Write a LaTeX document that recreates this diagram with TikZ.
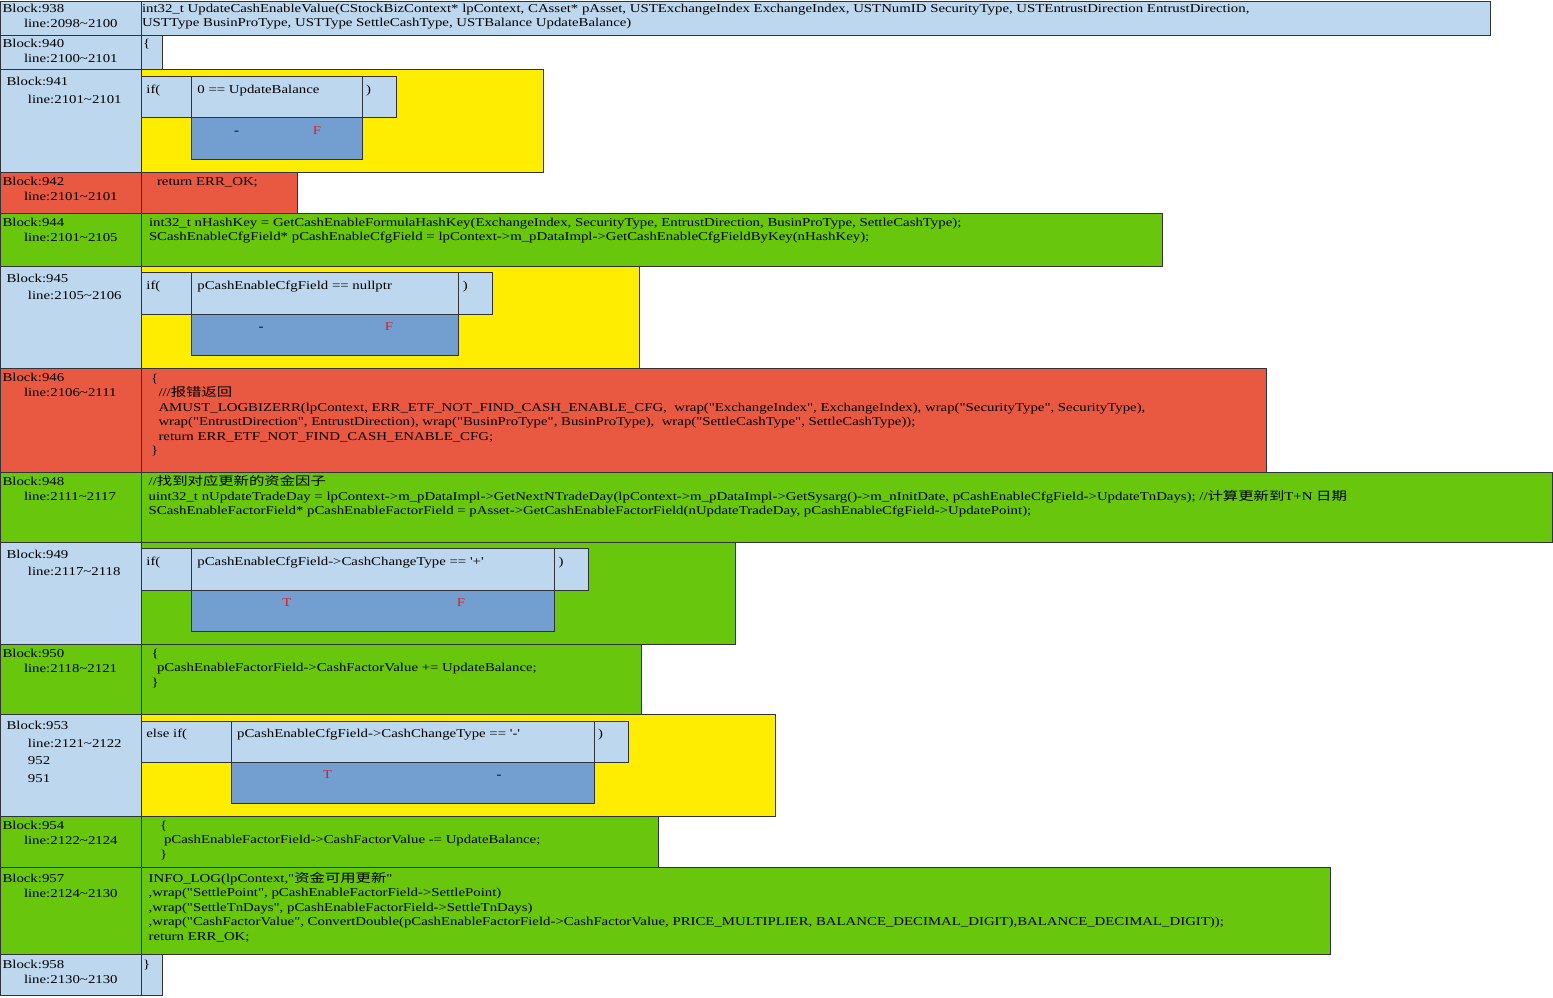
\documentclass[tikz,border=0pt]{standalone}
\usepackage{fontspec}
\setmainfont{Liberation Serif}[Ligatures=TeXOff,FakeStretch=1.235]
\newfontfamily\cjk{Noto Sans CJK SC}[FakeStretch=1.28]
\definecolor{lblue}{RGB}{189,215,238}
\definecolor{dblue}{RGB}{114,159,207}
\definecolor{yel}{RGB}{255,237,0}
\definecolor{redc}{RGB}{233,89,66}
\definecolor{grn}{RGB}{104,198,12}
\definecolor{flag}{RGB}{222,30,40}
\definecolor{edge}{RGB}{50,50,58}
\newcommand\codefont{\fontsize{12}{14.5}\selectfont}
\newcommand\lblfont{\fontsize{12}{15}\selectfont}
\newcommand\iflblfont{\fontsize{12}{17.5}\selectfont}
\newcommand\fst{\rule{0pt}{11pt}}
\newcommand\tld{\char"7E\relax}
\newcommand\ind[1]{\hspace*{#1pt}}
\begin{document}
\begin{tikzpicture}[x=1pt,y=-1pt,
  cell/.style={draw=edge,line width=0.9pt},
  code/.style={inner sep=0pt,outer sep=0pt,anchor=north west,align=left,font=\codefont},
  lbl/.style={code,font=\lblfont},
  iflbl/.style={code,font=\iflblfont},
  tf/.style={inner sep=0pt,anchor=base,font=\codefont},
  flagT/.style={tf,text=flag}]
\useasboundingbox (0,0) rectangle (1553,997);

% ---- Block 938: signature
\draw[cell,fill=lblue] (0,1) rectangle (141,35);
\draw[cell,fill=lblue] (141,1) rectangle (1490,35);
\node[lbl] (l938) at (2.5,1) {\fst Block:938\\\ind{21.5}line:2098\tld2100};
\node[code] (c938) at (142,1) {\fst int32\_t UpdateCashEnableValue(CStockBizContext* lpContext, CAsset* pAsset, USTExchangeIndex ExchangeIndex, USTNumID SecurityType, USTEntrustDirection EntrustDirection,\\USTType BusinProType, USTType SettleCashType, USTBalance UpdateBalance)};

% ---- Block 940
\draw[cell,fill=lblue] (0,35) rectangle (141,69.5);
\draw[cell,fill=lblue] (141,35) rectangle (162,69.5);
\node[lbl] (l940) at (2.5,36.3) {\fst Block:940\\\ind{21.5}line:2100\tld2101};
\node[code] (c940) at (143,36.3) {\fst\{};

% ---- Block 941: if (0 == UpdateBalance)
\draw[cell,fill=lblue] (0,69.5) rectangle (141,172);
\draw[cell,fill=yel] (141,69.5) rectangle (543,172);
\draw[cell,fill=lblue] (141,76.5) rectangle (191,117.5);
\draw[cell,fill=lblue] (191,76.5) rectangle (362,117.5);
\draw[cell,fill=lblue] (362,76.5) rectangle (396.5,117.5);
\draw[cell,fill=dblue] (191,117.5) rectangle (362,159);
\node[iflbl] (l941) at (6.6,74.7) {\fst Block:941\\\ind{21.4}line:2101\tld2101};
\node[code] (i941) at (146.4,82.3) {\fst if(};
\node[code] (q941) at (197.4,82.3) {\fst 0 == UpdateBalance};
\node[code] (p941) at (366,82.3) {\fst )};
\node[tf] (t941) at (236.6,134.5) {-};
\node[flagT] (f941) at (317,134.5) {F};

% ---- Block 942
\draw[cell,fill=redc] (0,172) rectangle (141,213);
\draw[cell,fill=redc] (141,172) rectangle (297.5,213);
\node[lbl] (l942) at (2.5,174) {\fst Block:942\\\ind{21.5}line:2101\tld2101};
\node[code] (c942) at (157,174.5) {\fst return ERR\_OK;};

% ---- Block 944
\draw[cell,fill=grn] (0,213) rectangle (141,266);
\draw[cell,fill=grn] (141,213) rectangle (1162,266);
\node[lbl] (l944) at (2.5,215.3) {\fst Block:944\\\ind{21.5}line:2101\tld2105};
\node[code] (c944) at (149,215.3) {\fst int32\_t nHashKey = GetCashEnableFormulaHashKey(ExchangeIndex, SecurityType, EntrustDirection, BusinProType, SettleCashType);\\SCashEnableCfgField* pCashEnableCfgField = lpContext->m\_pDataImpl->GetCashEnableCfgFieldByKey(nHashKey);};

% ---- Block 945: if (pCashEnableCfgField == nullptr)
\draw[cell,fill=lblue] (0,266) rectangle (141,368);
\draw[cell,fill=yel] (141,266) rectangle (639,368);
\draw[cell,fill=lblue] (141,272) rectangle (191,314);
\draw[cell,fill=lblue] (191,272) rectangle (458,314);
\draw[cell,fill=lblue] (458,272) rectangle (492,314);
\draw[cell,fill=dblue] (191,314) rectangle (458,355);
\node[iflbl] (l945) at (6.6,271.3) {\fst Block:945\\\ind{21.4}line:2105\tld2106};
\node[code] (i945) at (146.4,278.7) {\fst if(};
\node[code] (q945) at (197.4,278.7) {\fst pCashEnableCfgField == nullptr};
\node[code] (p945) at (462.8,278.7) {\fst )};
\node[tf] (t945) at (261,330) {-};
\node[flagT] (f945) at (389,330) {F};

% ---- Block 946: error return
\draw[cell,fill=redc] (0,368) rectangle (141,472);
\draw[cell,fill=redc] (141,368) rectangle (1266,472);
\node[lbl] (l946) at (2.5,370.3) {\fst Block:946\\\ind{21.5}line:2106\tld2111};
\node[code] (c946) at (151,371.3) {\fst\{\\
\ind{7.5}///{\cjk 报错返回}\\
\ind{7.5}AMUST\_LOGBIZERR(lpContext, ERR\_ETF\_NOT\_FIND\_CASH\_ENABLE\_CFG,\ \ wrap("ExchangeIndex", ExchangeIndex), wrap("SecurityType", SecurityType),\\
\ind{7.5}wrap("EntrustDirection", EntrustDirection), wrap("BusinProType", BusinProType),\ \ wrap("SettleCashType", SettleCashType));\\
\ind{7.5}return ERR\_ETF\_NOT\_FIND\_CASH\_ENABLE\_CFG;\\
\}};

% ---- Block 948
\draw[cell,fill=grn] (0,472) rectangle (141,542);
\draw[cell,fill=grn] (141,472) rectangle (1552,542);
\node[lbl] (l948) at (2.5,474) {\fst Block:948\\\ind{21.5}line:2111\tld2117};
\node[code] (c948) at (148.7,474.7) {\fst //{\cjk 找到对应更新的资金因子}\\
uint32\_t nUpdateTradeDay = lpContext->m\_pDataImpl->GetNextNTradeDay(lpContext->m\_pDataImpl->GetSysarg()->m\_nInitDate, pCashEnableCfgField->UpdateTnDays); //{\cjk 计算更新到}T+N {\cjk 日期}\\
SCashEnableFactorField* pCashEnableFactorField = pAsset->GetCashEnableFactorField(nUpdateTradeDay, pCashEnableCfgField->UpdatePoint);};

% ---- Block 949: if (CashChangeType == '+')
\draw[cell,fill=lblue] (0,542) rectangle (141,644.5);
\draw[cell,fill=grn] (141,542) rectangle (735,644.5);
\draw[cell,fill=lblue] (141,548.5) rectangle (191,590);
\draw[cell,fill=lblue] (191,548.5) rectangle (554,590);
\draw[cell,fill=lblue] (554,548.5) rectangle (588,590);
\draw[cell,fill=dblue] (191,590) rectangle (554,631);
\node[iflbl] (l949) at (6.6,547) {\fst Block:949\\\ind{21.4}line:2117\tld2118};
\node[code] (i949) at (146.4,554.7) {\fst if(};
\node[code] (q949) at (197.4,554.7) {\fst pCashEnableCfgField->CashChangeType == '+'};
\node[code] (p949) at (558.7,554.7) {\fst )};
\node[flagT] (t949) at (287,606) {T};
\node[flagT] (f949) at (461,606) {F};

% ---- Block 950
\draw[cell,fill=grn] (0,644.5) rectangle (141,714);
\draw[cell,fill=grn] (141,644.5) rectangle (641.5,714);
\node[lbl] (l950) at (2.5,646) {\fst Block:950\\\ind{21.5}line:2118\tld2121};
\node[code] (c950) at (151.5,646.3) {\fst\{\\\ind{5.5}pCashEnableFactorField->CashFactorValue += UpdateBalance;\\\}};

% ---- Block 953: else if (CashChangeType == '-')
\draw[cell,fill=lblue] (0,714) rectangle (141,816);
\draw[cell,fill=yel] (141,714) rectangle (775.5,816);
\draw[cell,fill=lblue] (141,721) rectangle (231,762);
\draw[cell,fill=lblue] (231,721) rectangle (594,762);
\draw[cell,fill=lblue] (594,721) rectangle (628.5,762);
\draw[cell,fill=dblue] (231,762) rectangle (594,803);
\node[iflbl] (l953) at (6.6,718.7) {\fst Block:953\\\ind{21.4}line:2121\tld2122\\\ind{21.4}952\\\ind{21.4}951};
\node[code] (i953) at (146.4,726.3) {\fst else if(};
\node[code] (q953) at (237.2,726.3) {\fst pCashEnableCfgField->CashChangeType == '-'};
\node[code] (p953) at (598,726.3) {\fst )};
\node[flagT] (t953) at (327.5,778) {T};
\node[tf] (f953) at (499,778) {-};

% ---- Block 954
\draw[cell,fill=grn] (0,816) rectangle (141,867.5);
\draw[cell,fill=grn] (141,816) rectangle (658.5,867.5);
\node[lbl] (l954) at (2.5,818) {\fst Block:954\\\ind{21.5}line:2122\tld2124};
\node[code] (c954) at (160,818) {\fst\{\\\ind{4}pCashEnableFactorField->CashFactorValue -= UpdateBalance;\\\}};

% ---- Block 957
\draw[cell,fill=grn] (0,867.5) rectangle (141,954.5);
\draw[cell,fill=grn] (141,867.5) rectangle (1330,954.5);
\node[lbl] (l957) at (2.5,871.3) {\fst Block:957\\\ind{21.5}line:2124\tld2130};
\node[code] (c957) at (148.7,871.3) {\fst INFO\_LOG(lpContext,"{\cjk 资金可用更新}"\\
,wrap("SettlePoint", pCashEnableFactorField->SettlePoint)\\
,wrap("SettleTnDays", pCashEnableFactorField->SettleTnDays)\\
,wrap("CashFactorValue", ConvertDouble(pCashEnableFactorField->CashFactorValue, PRICE\_MULTIPLIER, BALANCE\_DECIMAL\_DIGIT),BALANCE\_DECIMAL\_DIGIT));\\
return ERR\_OK;};

% ---- Block 958
\draw[cell,fill=lblue] (0,954.5) rectangle (141,995.5);
\draw[cell,fill=lblue] (141,954.5) rectangle (162,995.5);
\node[lbl] (l958) at (2.5,957) {\fst Block:958\\\ind{21.5}line:2130\tld2130};
\node[code] (c958) at (143,957) {\fst\}};
\end{tikzpicture}
\end{document}
